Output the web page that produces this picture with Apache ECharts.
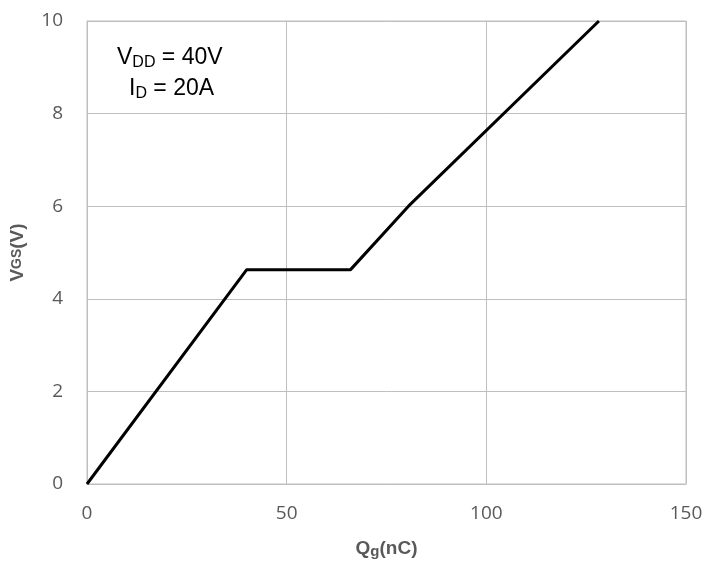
<!DOCTYPE html>
<html><head><meta charset="utf-8">
<script src="https://cdn.jsdelivr.net/npm/echarts@6/dist/echarts.min.js"></script>
<style>html,body{margin:0;padding:0;background:#fff}#c{width:708px;height:564px}</style>
</head><body><div id="c"></div>
<script>
const qg = [0, 40, 66, 80.5, 128.2];
const vgs = [0, 4.63, 4.63, 6.0, 10];
const xTicks = [0, 50, 100, 150];
const yTicks = [0, 2, 4, 6, 8, 10];

const chart = echarts.init(document.getElementById('c'));
const F = '"Liberation Sans", Arial, sans-serif';
const T = '"Open Sans", sans-serif';
const gridColor = '#bfbfbf';
chart.setOption({
  animation: false,
  grid: {left: 87, top: 21, right: 22, bottom: 80, show: true, borderColor: gridColor, borderWidth: 1},
  xAxis: {
    type: 'value', min: xTicks[0], max: xTicks[xTicks.length-1], interval: 50,
    axisLine: {show: true, lineStyle: {color: gridColor}}, axisTick: {show: false},
    splitLine: {show: true, lineStyle: {color: gridColor, width: 1}},
    axisLabel: {color: '#595959', fontSize: 19, fontFamily: T, margin: 20},
    name: '{b|Q}{s|g}{b|(nC)}', nameLocation: 'middle', nameGap: 55,
    nameTextStyle: {rich: {
      b: {fontSize: 19, fontWeight: 'bold', color: '#595959', fontFamily: F},
      s: {fontSize: 15, fontWeight: 'bold', color: '#595959', fontFamily: F, padding: [5,0,0,0]}
    }}
  },
  yAxis: {
    type: 'value', min: yTicks[0], max: yTicks[yTicks.length-1], interval: 2,
    axisLine: {show: true, lineStyle: {color: gridColor}}, axisTick: {show: false},
    splitLine: {show: true, lineStyle: {color: gridColor, width: 1}},
    axisLabel: {color: '#595959', fontSize: 19, fontFamily: T, margin: 24},
    name: '{b|V}{s|GS}{b|(V)}', nameLocation: 'middle', nameGap: 60, nameRotate: 90,
    nameTextStyle: {rich: {
      b: {fontSize: 19, fontWeight: 'bold', color: '#595959', fontFamily: F},
      s: {fontSize: 14, fontWeight: 'bold', color: '#595959', fontFamily: F}
    }}
  },
  series: [{
    type: 'line', data: qg.map((x, i) => [x, vgs[i]]), showSymbol: false,
    lineStyle: {color: '#000', width: 3}, clip: false
  }],
  graphic: [
    {type: 'text', left: 117, top: 46, style: {
      text: '{a|V}{s|DD}{a| = 40V}', rich: {
        a: {fontSize: 23, fontFamily: F, fill: '#000', color: '#000'},
        s: {fontSize: 16, fontFamily: F, fill: '#000', color: '#000', padding: [10,0,0,0]}
      }}},
    {type: 'text', left: 129, top: 77, style: {
      text: '{a|I}{s|D}{a| = 20A}', rich: {
        a: {fontSize: 23, fontFamily: F, fill: '#000', color: '#000'},
        s: {fontSize: 16, fontFamily: F, fill: '#000', color: '#000', padding: [10,0,0,0]}
      }}}
  ]
});
</script></body></html>
